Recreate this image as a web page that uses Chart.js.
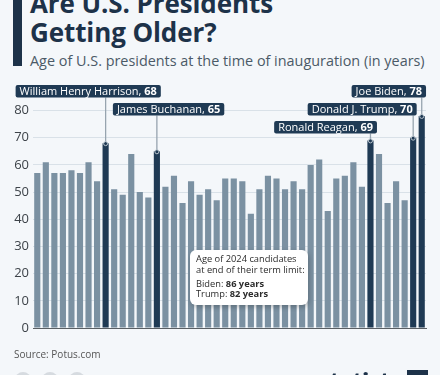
<!DOCTYPE html>
<html>
<head>
<meta charset="utf-8">
<script src="https://cdn.jsdelivr.net/npm/chart.js@4"></script>
<style>
  html, body { margin:0; padding:0; }
  body { width:440px; height:375px; background:#f4f7fa; position:relative; overflow:hidden; font-family:"Open Sans", sans-serif; }
  #accent { position:absolute; left:13px; top:0; width:9px; height:66px; background:#1d3249; }
  #title { position:absolute; left:30px; top:-11px; font-weight:700; font-size:26px; line-height:29px; color:#1d3249; white-space:nowrap; letter-spacing:-0.1px; }
  #subtitle { position:absolute; left:30px; top:52px; font-size:14.4px; line-height:18px; color:#4b5a67; white-space:nowrap; }
  #source { position:absolute; left:14px; top:347px; font-size:10px; color:#555; }
  #note { position:absolute; left:190px; top:250px; width:118px; height:55px; background:#fff; border-radius:6px; box-shadow:1px 2px 5px rgba(0,0,0,0.25); font-size:9.3px; line-height:10.8px; color:#2b2b2b; box-sizing:border-box; padding:4px 0 0 6px; white-space:nowrap; }
  #note .gap { height:3px; }
  .dot { position:absolute; top:372px; width:16px; height:16px; border-radius:50%; background:#d6dbe0; }
  #logo { position:absolute; left:319px; top:365px; font-weight:800; font-size:21px; line-height:30px; color:#1d3249; }
  #logosq { position:absolute; left:407px; top:370px; width:21px; height:12px; background:#1d3249; }
  #chart { position:absolute; left:0; top:0; }
</style>
</head>
<body>
<div id="accent"></div>
<div id="title">Are U.S. Presidents<br>Getting Older?</div>
<div id="subtitle">Age of U.S. presidents at the time of inauguration (in years)</div>
<canvas id="chart" width="440" height="375"></canvas>
<div id="note">Age of 2024 candidates<br>at end of their term limit:<div class="gap"></div>Biden: <b>86 years</b><br>Trump: <b>82 years</b></div>
<div id="source">Source: Potus.com</div>
<div class="dot" style="left:15px"></div>
<div class="dot" style="left:42px"></div>
<div class="dot" style="left:69px"></div>
<div id="logo">statista</div>
<div id="logosq"></div>
<script>
const presidents = ["George Washington","John Adams","Thomas Jefferson","James Madison","James Monroe","John Quincy Adams","Andrew Jackson","Martin Van Buren","William Henry Harrison","John Tyler","James K. Polk","Zachary Taylor","Millard Fillmore","Franklin Pierce","James Buchanan","Abraham Lincoln","Andrew Johnson","Ulysses S. Grant","Rutherford B. Hayes","James A. Garfield","Chester A. Arthur","Grover Cleveland","Benjamin Harrison","Grover Cleveland (2nd)","William McKinley","Theodore Roosevelt","William H. Taft","Woodrow Wilson","Warren G. Harding","Calvin Coolidge","Herbert Hoover","Franklin D. Roosevelt","Harry S. Truman","Dwight D. Eisenhower","John F. Kennedy","Lyndon B. Johnson","Richard Nixon","Gerald Ford","Jimmy Carter","Ronald Reagan","George H. W. Bush","Bill Clinton","George W. Bush","Barack Obama","Donald J. Trump","Joe Biden"];
const ages = [57,61,57,57,58,57,61,54,68,51,49,64,50,48,65,52,56,46,54,49,51,47,55,55,54,42,51,56,55,51,54,51,60,62,43,55,56,61,52,69,64,46,54,47,70,78];
const highlighted = ["William Henry Harrison","James Buchanan","Ronald Reagan","Donald J. Trump","Joe Biden"];
const yTicks = [0,10,20,30,40,50,60,70,80];

// label placement (style): anchor side, x offset from bar centre, box top
const labelStyle = {
  "William Henry Harrison": {side:"left", dx:-90, top:85},
  "James Buchanan": {side:"left", dx:-44, top:103},
  "Ronald Reagan": {side:"right", dx:6.5, top:121},
  "Donald J. Trump": {side:"right", dx:3.5, top:103},
  "Joe Biden": {side:"right", dx:4.3, top:85}
};

const DARK = "#1f3a54", LIGHT = "#7b91a2";

const calloutPlugin = {
  id: "callouts",
  afterDatasetsDraw(chart) {
    const ctx = chart.ctx;
    const meta = chart.getDatasetMeta(0);
    const yScale = chart.scales.y;
    ctx.save();
    highlighted.forEach(name => {
      const i = presidents.indexOf(name);
      const bar = meta.data[i];
      const st = labelStyle[name];
      const cx = bar.x;
      const topY = yScale.getPixelForValue(ages[i]);
      const nameTxt = name + ", ";
      const valTxt = String(ages[i]);
      ctx.font = "11px 'Open Sans'";
      const w1 = ctx.measureText(nameTxt).width;
      ctx.font = "bold 11px 'Open Sans'";
      const w2 = ctx.measureText(valTxt).width;
      const pad = 4;
      const bw = w1 + w2 + pad * 2, bh = 12.5;
      let bx = st.side === "left" ? cx + st.dx : cx + st.dx - bw;
      const by = st.top;
      ctx.strokeStyle = "#97a4af";
      ctx.lineWidth = 1.3;
      ctx.beginPath();
      ctx.moveTo(cx, by + bh);
      ctx.lineTo(cx, topY);
      ctx.stroke();
      ctx.beginPath();
      ctx.arc(cx, topY + 0.5, 2, 0, Math.PI * 2);
      ctx.fillStyle = DARK;
      ctx.fill();
      ctx.strokeStyle = "#b9c4cd";
      ctx.lineWidth = 1;
      ctx.stroke();
      ctx.fillStyle = DARK;
      ctx.beginPath();
      ctx.roundRect(bx, by, bw, bh, 2);
      ctx.fill();
      ctx.fillStyle = "#ffffff";
      ctx.textBaseline = "middle";
      ctx.font = "11px 'Open Sans'";
      ctx.fillText(nameTxt, bx + pad, by + bh / 2 + 0.5);
      ctx.font = "bold 11px 'Open Sans'";
      ctx.fillText(valTxt, bx + pad + w1, by + bh / 2 + 0.5);
    });
    ctx.restore();
  }
};

new Chart(document.getElementById("chart"), {
  type: "bar",
  data: {
    labels: presidents,
    datasets: [{
      data: ages,
      backgroundColor: presidents.map(p => highlighted.includes(p) ? DARK : LIGHT),
      barPercentage: 0.72,
      categoryPercentage: 1.0,
      borderWidth: 0
    }]
  },
  options: {
    responsive: false,
    animation: false,
    devicePixelRatio: 1,
    layout: { padding: { left: 0, right: 14, top: 110.5, bottom: 47 } },
    plugins: { legend: { display: false }, tooltip: { enabled: false } },
    scales: {
      x: {
        offset: true,
        grid: { display: false, drawTicks: false },
        ticks: { display: false },
        border: { display: true, color: "#5a5f64", width: 1 },
        afterFit(s) { s.height = 0; }
      },
      y: {
        min: 0, max: 80,
        afterBuildTicks(s) { s.ticks = yTicks.map(v => ({ value: v })); },
        grid: { color: "#d9e1e8", lineWidth: 1, drawTicks: false },
        border: { display: false },
        ticks: { padding: 4, color: "#3d4349", font: { family: "Open Sans", size: 13 } },
        afterFit(s) { s.width = 33; }
      }
    }
  },
  plugins: [calloutPlugin]
});
</script>
</body>
</html>
